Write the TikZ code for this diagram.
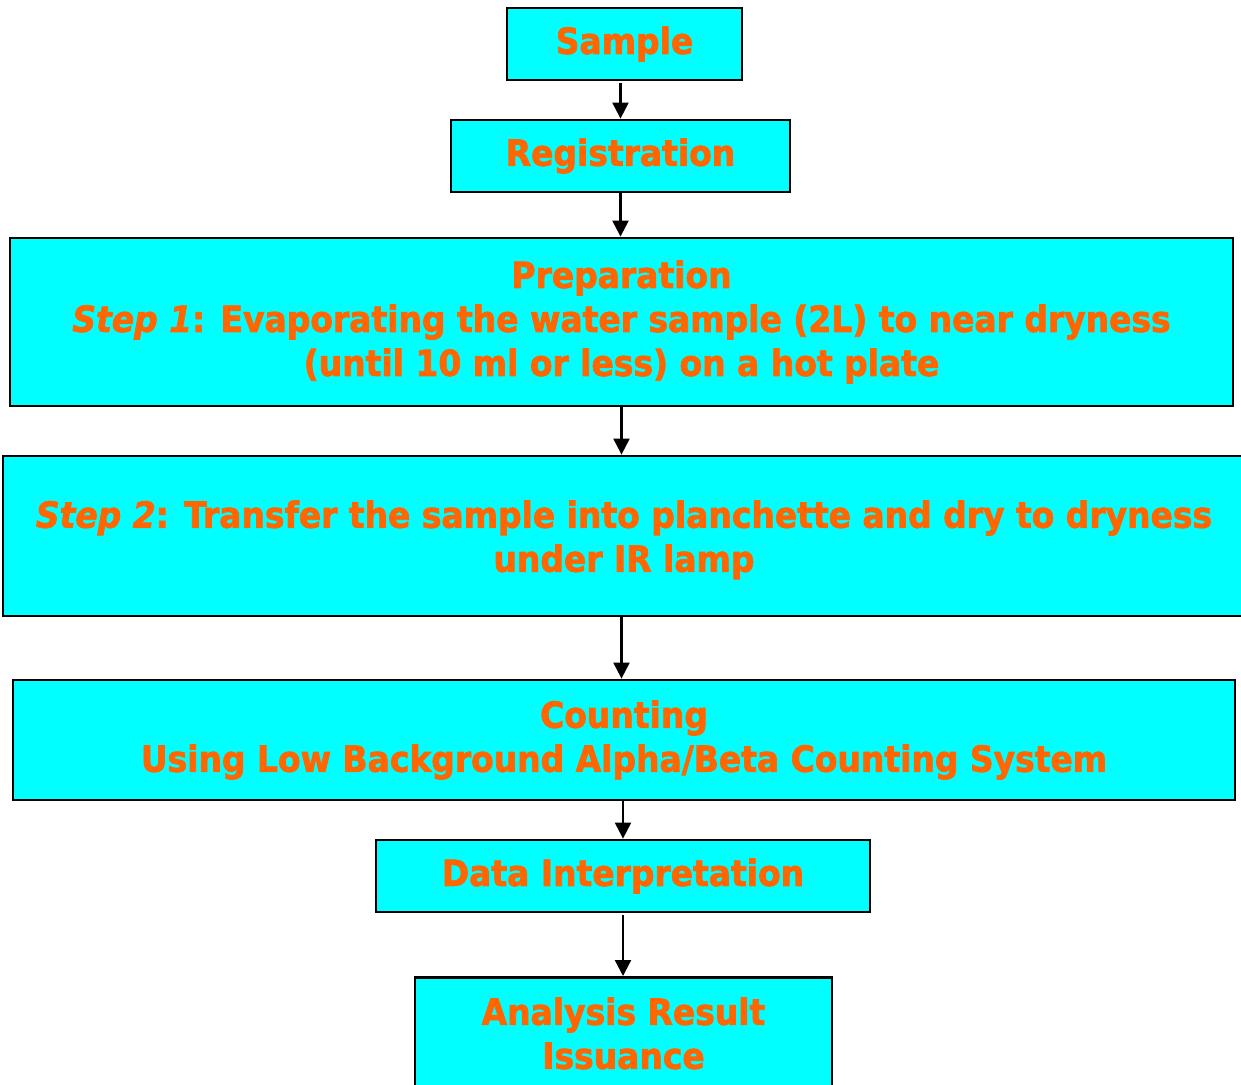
\documentclass[tikz,border=0pt]{standalone}
\usepackage{fontspec}
\setmainfont[FakeStretch=0.915, FakeBold=2]{DejaVu Sans}
\usetikzlibrary{arrows.meta}
\definecolor{boxcyan}{HTML}{00FFFF}
\definecolor{txtorange}{HTML}{FF6600}

\begin{document}
\begin{tikzpicture}[x=0.5pt,y=-0.5pt,
    stage/.style={draw=black, line width=1.4pt, fill=boxcyan, text=txtorange,
      font=\fontsize{18}{22}\selectfont\bfseries, align=center, inner sep=0pt},
    flow/.style={-{Triangle[length=8pt,width=8pt]}, line width=1.1pt}]
                \useasboundingbox (0,0) rectangle (1241,1085);
                \node [stage, minimum width=117.5pt, minimum height=36pt] (sample) at (624.5,44) {Sample};
                \node [stage, minimum width=169.5pt, minimum height=36pt] (regist) at (620.5,156) {Registration};
                \node [stage, minimum width=611.5pt, minimum height=84pt] (prep) at (621.5,322)
                    {Preparation\\ \textit{Step 1}: Evaporating the water sample (2L) to near dryness\\ (until 10 ml or less) on a hot plate};
                \node [stage, minimum width=621pt, minimum height=80pt] (step) at (624,536)
                    {\rule{0pt}{17.5pt}\textit{Step 2}: Transfer the sample into planchette and dry to dryness\\ under IR lamp};
                \node [stage, minimum width=611pt, minimum height=60pt] (count) at (624,740)
                    {Counting\\ Using Low Background Alpha/Beta Counting System};
                \node [stage, minimum width=247pt, minimum height=36pt] (data) at (623,876) {Data Interpretation};
                \node [stage, minimum width=208.5pt, minimum height=56pt, anchor=north] (result) at (623.5,976)
                    {Analysis Result\\ Issuance};
                \draw [flow] ([yshift=-1pt]sample.south -| regist.north) -- (regist.north);
                \draw [flow] (regist.south) -- (regist.south |- prep.north);
                \draw [flow] (prep.south) -- (prep.south |- step.north);
                \draw [flow] (prep.south |- step.south) -- (prep.south |- count.north);
                \draw [flow] (count.south -| data.north) -- (data.north);
                \draw [flow] ([yshift=-1pt]data.south) -- (data.south |- result.north);
            \end{tikzpicture}
\end{document}
